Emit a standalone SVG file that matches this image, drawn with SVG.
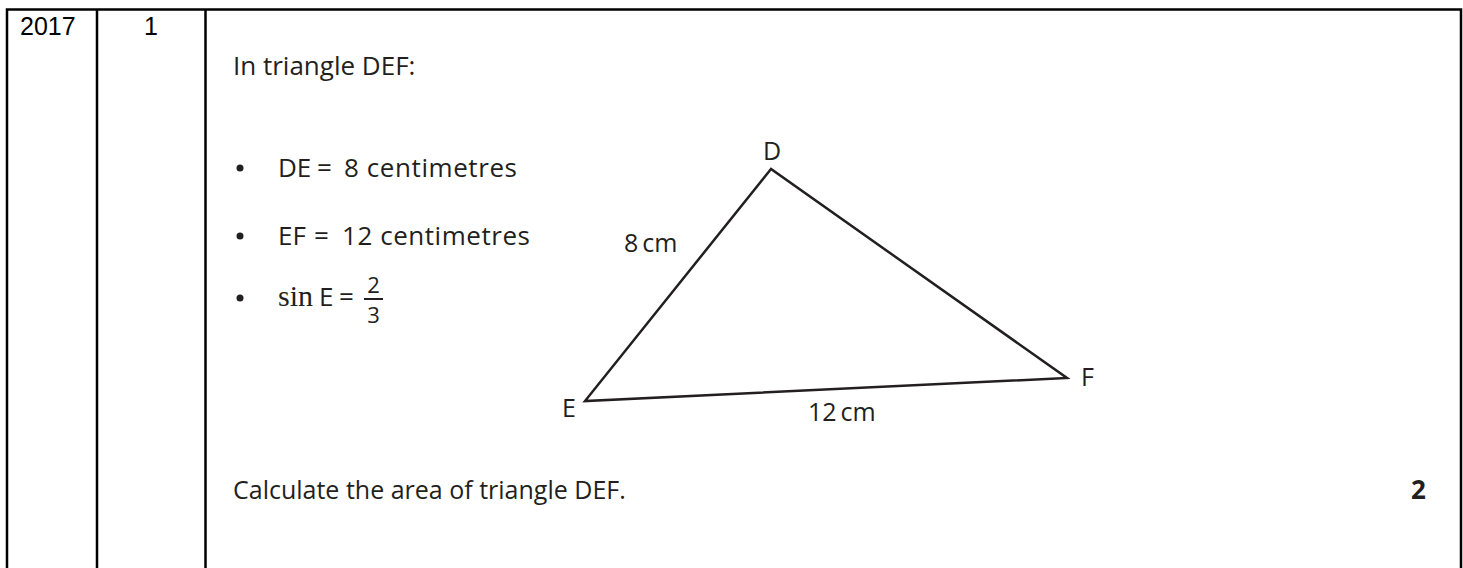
<svg xmlns="http://www.w3.org/2000/svg" width="1463" height="568" viewBox="0 0 1463 568">
<style>
.grid{stroke:#000;stroke-width:2.5;fill:none}
.cal{font-family:"Liberation Sans",Arial,sans-serif;font-size:25px;fill:#000}
.t{font-family:"Open Sans","DejaVu Sans",sans-serif;font-size:25px;fill:#231f20}
.b{font-family:"Open Sans","DejaVu Sans",sans-serif;font-size:26px;fill:#231f20}
.fr{font-family:"Open Sans","DejaVu Sans",sans-serif;font-size:22px;fill:#231f20}
.lbl{font-family:"Open Sans","DejaVu Sans",sans-serif;font-size:25px;fill:#231f20}
.serif{font-family:"Liberation Serif","Times New Roman",serif;font-size:30px;fill:#231f20}
.tri{stroke:#231f20;stroke-width:2.5;fill:none;stroke-linejoin:miter}
</style>
<rect width="1463" height="568" fill="#fff"/>
<g id="table">
<path class="grid" d="M7 568V9.5H1461V568M97 9.5V568M205.5 9.5V568"/>
</g>
<g id="year"><text class="cal" x="20" y="35">2017</text></g>
<g id="qnum"><text class="cal" x="151" y="35" text-anchor="middle">1</text></g>
<g id="question">
<text class="b" x="233" y="75">In triangle DEF:</text>
<circle cx="240" cy="168" r="3.5" fill="#231f20"/>
<text class="b" x="278" y="177">DE</text>
<text class="b" x="317" y="177">=</text>
<text class="b" x="344" y="177" textLength="173" lengthAdjust="spacing">8 centimetres</text>
<circle cx="240" cy="236" r="3.5" fill="#231f20"/>
<text class="b" x="278" y="245">EF</text>
<text class="b" x="314" y="245">=</text>
<text class="b" x="342" y="245" textLength="188" lengthAdjust="spacing">12 centimetres</text>
<circle cx="240" cy="298" r="3.5" fill="#231f20"/>
<text class="serif" x="278" y="306">sin</text>
<text class="b" x="319" y="306">E</text>
<text class="b" x="339" y="306">=</text>
<text class="fr" x="373.5" y="293" text-anchor="middle">2</text>
<line x1="364" y1="299" x2="383" y2="299" stroke="#231f20" stroke-width="2"/>
<text class="fr" x="373.5" y="323" text-anchor="middle">3</text>
<text class="t" x="233" y="499">Calculate the area of triangle DEF.</text>
<text class="b" x="1411" y="499" font-weight="bold" fill="#000">2</text>
</g>
<g id="triangle">
<polygon class="tri" points="771,169 585,401 1067,378"/>
<text class="lbl" x="772" y="160" text-anchor="middle">D</text>
<text class="lbl" x="1081" y="386">F</text>
<text class="lbl" x="562" y="417">E</text>
<text class="lbl" x="624" y="252">8<tspan dx="4">cm</tspan></text>
<text class="lbl" x="808" y="421">12<tspan dx="4">cm</tspan></text>
</g>
</svg>
